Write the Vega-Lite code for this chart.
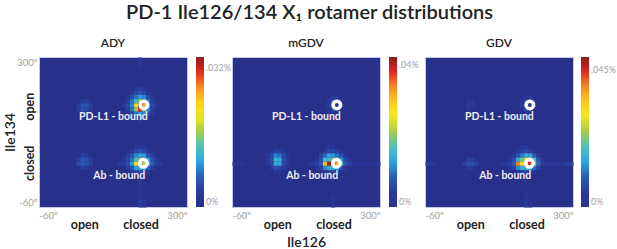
{
  "$schema": "https://vega.github.io/schema/vega-lite/v6.json",
  "background": "white",
  "padding": {"left": 2, "right": 0, "top": 2, "bottom": 0},
  "title": {"text": "PD-1 Ile126/134 X₁ rotamer distributions", "fontSize": 20, "fontWeight": 600, "color": "#222222", "anchor": "middle", "offset": 14},
  "config": {
    "font": "Lato",
    "view": {"fill": "#283189", "stroke": "#c5c8e6", "strokeWidth": 1},
    "title": {"fontSize": 12, "fontWeight": 600, "color": "#222222", "offset": 7},
    "axis": {"grid": false, "ticks": false, "domain": false}
  },
  "datasets": {
    "ady": [
      {"ile126":185,"ile134":295,"pct":0.003},{"ile126":185,"ile134":285,"pct":0.003},
      {"ile126":175,"ile134":225,"pct":0.003},{"ile126":185,"ile134":225,"pct":0.004},{"ile126":195,"ile134":225,"pct":0.003},
      {"ile126":165,"ile134":215,"pct":0.003},{"ile126":175,"ile134":215,"pct":0.005},{"ile126":185,"ile134":215,"pct":0.006},{"ile126":195,"ile134":215,"pct":0.005},{"ile126":205,"ile134":215,"pct":0.003},
      {"ile126":155,"ile134":205,"pct":0.003},{"ile126":165,"ile134":205,"pct":0.005},{"ile126":175,"ile134":205,"pct":0.008},{"ile126":185,"ile134":205,"pct":0.010},{"ile126":195,"ile134":205,"pct":0.009},{"ile126":205,"ile134":205,"pct":0.005},{"ile126":215,"ile134":205,"pct":0.003},
      {"ile126":155,"ile134":195,"pct":0.004},{"ile126":165,"ile134":195,"pct":0.008},{"ile126":175,"ile134":195,"pct":0.013},{"ile126":185,"ile134":195,"pct":0.017},{"ile126":195,"ile134":195,"pct":0.014},{"ile126":205,"ile134":195,"pct":0.008},{"ile126":215,"ile134":195,"pct":0.004},
      {"ile126":145,"ile134":185,"pct":0.003},{"ile126":155,"ile134":185,"pct":0.005},{"ile126":165,"ile134":185,"pct":0.009},{"ile126":175,"ile134":185,"pct":0.020},{"ile126":185,"ile134":185,"pct":0.033},{"ile126":195,"ile134":185,"pct":0.026},{"ile126":205,"ile134":185,"pct":0.010},{"ile126":215,"ile134":185,"pct":0.005},{"ile126":225,"ile134":185,"pct":0.003},
      {"ile126":155,"ile134":175,"pct":0.004},{"ile126":165,"ile134":175,"pct":0.008},{"ile126":175,"ile134":175,"pct":0.017},{"ile126":185,"ile134":175,"pct":0.031},{"ile126":195,"ile134":175,"pct":0.016},{"ile126":205,"ile134":175,"pct":0.009},{"ile126":215,"ile134":175,"pct":0.004},
      {"ile126":155,"ile134":165,"pct":0.003},{"ile126":165,"ile134":165,"pct":0.005},{"ile126":175,"ile134":165,"pct":0.008},{"ile126":185,"ile134":165,"pct":0.010},{"ile126":195,"ile134":165,"pct":0.009},{"ile126":205,"ile134":165,"pct":0.005},{"ile126":215,"ile134":165,"pct":0.003},
      {"ile126":165,"ile134":155,"pct":0.003},{"ile126":175,"ile134":155,"pct":0.004},{"ile126":185,"ile134":155,"pct":0.005},{"ile126":195,"ile134":155,"pct":0.004},{"ile126":205,"ile134":155,"pct":0.003},
      {"ile126":185,"ile134":145,"pct":0.002},
      {"ile126":175,"ile134":85,"pct":0.003},{"ile126":185,"ile134":85,"pct":0.003},{"ile126":195,"ile134":85,"pct":0.003},
      {"ile126":165,"ile134":75,"pct":0.003},{"ile126":175,"ile134":75,"pct":0.005},{"ile126":185,"ile134":75,"pct":0.006},{"ile126":195,"ile134":75,"pct":0.005},{"ile126":205,"ile134":75,"pct":0.003},
      {"ile126":155,"ile134":65,"pct":0.004},{"ile126":165,"ile134":65,"pct":0.006},{"ile126":175,"ile134":65,"pct":0.009},{"ile126":185,"ile134":65,"pct":0.011},{"ile126":195,"ile134":65,"pct":0.010},{"ile126":205,"ile134":65,"pct":0.006},{"ile126":215,"ile134":65,"pct":0.004},
      {"ile126":145,"ile134":55,"pct":0.003},{"ile126":155,"ile134":55,"pct":0.005},{"ile126":165,"ile134":55,"pct":0.008},{"ile126":175,"ile134":55,"pct":0.013},{"ile126":185,"ile134":55,"pct":0.016},{"ile126":195,"ile134":55,"pct":0.014},{"ile126":205,"ile134":55,"pct":0.010},{"ile126":215,"ile134":55,"pct":0.006},{"ile126":225,"ile134":55,"pct":0.003},
      {"ile126":135,"ile134":45,"pct":0.003},{"ile126":145,"ile134":45,"pct":0.004},{"ile126":155,"ile134":45,"pct":0.006},{"ile126":165,"ile134":45,"pct":0.010},{"ile126":175,"ile134":45,"pct":0.021},{"ile126":185,"ile134":45,"pct":0.020},{"ile126":195,"ile134":45,"pct":0.018},{"ile126":205,"ile134":45,"pct":0.013},{"ile126":215,"ile134":45,"pct":0.007},{"ile126":225,"ile134":45,"pct":0.004},{"ile126":235,"ile134":45,"pct":0.003},
      {"ile126":155,"ile134":35,"pct":0.004},{"ile126":165,"ile134":35,"pct":0.006},{"ile126":175,"ile134":35,"pct":0.010},{"ile126":185,"ile134":35,"pct":0.012},{"ile126":195,"ile134":35,"pct":0.010},{"ile126":205,"ile134":35,"pct":0.007},{"ile126":215,"ile134":35,"pct":0.004},
      {"ile126":165,"ile134":25,"pct":0.003},{"ile126":175,"ile134":25,"pct":0.005},{"ile126":185,"ile134":25,"pct":0.006},{"ile126":195,"ile134":25,"pct":0.005},{"ile126":205,"ile134":25,"pct":0.003},
      {"ile126":185,"ile134":15,"pct":0.003},{"ile126":195,"ile134":15,"pct":0.003},
      {"ile126":185,"ile134":5,"pct":0.003},{"ile126":185,"ile134":-5,"pct":0.003},{"ile126":185,"ile134":-15,"pct":0.003},{"ile126":185,"ile134":-25,"pct":0.003},{"ile126":185,"ile134":-35,"pct":0.003},{"ile126":185,"ile134":-45,"pct":0.004},{"ile126":185,"ile134":-55,"pct":0.004},{"ile126":195,"ile134":-45,"pct":0.003},{"ile126":195,"ile134":-55,"pct":0.003},
      {"ile126":45,"ile134":195,"pct":0.004},{"ile126":55,"ile134":195,"pct":0.004},{"ile126":35,"ile134":185,"pct":0.004},{"ile126":45,"ile134":185,"pct":0.006},{"ile126":55,"ile134":185,"pct":0.006},{"ile126":65,"ile134":185,"pct":0.004},{"ile126":35,"ile134":175,"pct":0.004},{"ile126":45,"ile134":175,"pct":0.006},{"ile126":55,"ile134":175,"pct":0.005},{"ile126":65,"ile134":175,"pct":0.003},{"ile126":45,"ile134":165,"pct":0.003},{"ile126":55,"ile134":165,"pct":0.003},
      {"ile126":45,"ile134":65,"pct":0.004},{"ile126":55,"ile134":65,"pct":0.004},{"ile126":35,"ile134":55,"pct":0.004},{"ile126":45,"ile134":55,"pct":0.007},{"ile126":55,"ile134":55,"pct":0.006},{"ile126":65,"ile134":55,"pct":0.004},{"ile126":35,"ile134":45,"pct":0.005},{"ile126":45,"ile134":45,"pct":0.007},{"ile126":55,"ile134":45,"pct":0.006},{"ile126":65,"ile134":45,"pct":0.004},{"ile126":45,"ile134":35,"pct":0.004},{"ile126":55,"ile134":35,"pct":0.003}
    ],
    "mgdv": [
      {"ile126":185,"ile134":205,"pct":0.004},{"ile126":195,"ile134":205,"pct":0.004},
      {"ile126":175,"ile134":195,"pct":0.004},{"ile126":185,"ile134":195,"pct":0.007},{"ile126":195,"ile134":195,"pct":0.007},{"ile126":205,"ile134":195,"pct":0.004},
      {"ile126":175,"ile134":185,"pct":0.005},{"ile126":185,"ile134":185,"pct":0.008},{"ile126":195,"ile134":185,"pct":0.003},{"ile126":205,"ile134":185,"pct":0.005},
      {"ile126":185,"ile134":175,"pct":0.006},{"ile126":195,"ile134":175,"pct":0.005},{"ile126":185,"ile134":165,"pct":0.003},{"ile126":195,"ile134":165,"pct":0.003},
      {"ile126":175,"ile134":85,"pct":0.004},{"ile126":185,"ile134":85,"pct":0.004},
      {"ile126":165,"ile134":75,"pct":0.004},{"ile126":175,"ile134":75,"pct":0.006},{"ile126":185,"ile134":75,"pct":0.006},{"ile126":195,"ile134":75,"pct":0.005},{"ile126":205,"ile134":75,"pct":0.004},
      {"ile126":155,"ile134":65,"pct":0.005},{"ile126":165,"ile134":65,"pct":0.009},{"ile126":175,"ile134":65,"pct":0.013},{"ile126":185,"ile134":65,"pct":0.012},{"ile126":195,"ile134":65,"pct":0.010},{"ile126":205,"ile134":65,"pct":0.007},{"ile126":215,"ile134":65,"pct":0.004},
      {"ile126":145,"ile134":55,"pct":0.004},{"ile126":155,"ile134":55,"pct":0.007},{"ile126":165,"ile134":55,"pct":0.015},{"ile126":175,"ile134":55,"pct":0.016},{"ile126":185,"ile134":55,"pct":0.020},{"ile126":195,"ile134":55,"pct":0.016},{"ile126":205,"ile134":55,"pct":0.012},{"ile126":215,"ile134":55,"pct":0.006},{"ile126":225,"ile134":55,"pct":0.004},
      {"ile126":-55,"ile134":45,"pct":0.004},{"ile126":-45,"ile134":45,"pct":0.003},{"ile126":-35,"ile134":45,"pct":0.003},{"ile126":245,"ile134":45,"pct":0.003},{"ile126":255,"ile134":45,"pct":0.003},{"ile126":265,"ile134":45,"pct":0.004},{"ile126":275,"ile134":45,"pct":0.003},{"ile126":285,"ile134":45,"pct":0.004},{"ile126":295,"ile134":45,"pct":0.004},
      {"ile126":125,"ile134":45,"pct":0.003},{"ile126":135,"ile134":45,"pct":0.004},{"ile126":145,"ile134":45,"pct":0.005},{"ile126":155,"ile134":45,"pct":0.008},{"ile126":165,"ile134":45,"pct":0.031},{"ile126":175,"ile134":45,"pct":0.041},{"ile126":185,"ile134":45,"pct":0.031},{"ile126":195,"ile134":45,"pct":0.032},{"ile126":205,"ile134":45,"pct":0.016},{"ile126":215,"ile134":45,"pct":0.008},{"ile126":225,"ile134":45,"pct":0.005},{"ile126":235,"ile134":45,"pct":0.004},
      {"ile126":145,"ile134":35,"pct":0.003},{"ile126":155,"ile134":35,"pct":0.005},{"ile126":165,"ile134":35,"pct":0.011},{"ile126":175,"ile134":35,"pct":0.014},{"ile126":185,"ile134":35,"pct":0.013},{"ile126":195,"ile134":35,"pct":0.011},{"ile126":205,"ile134":35,"pct":0.007},{"ile126":215,"ile134":35,"pct":0.004},
      {"ile126":165,"ile134":25,"pct":0.004},{"ile126":175,"ile134":25,"pct":0.006},{"ile126":185,"ile134":25,"pct":0.006},{"ile126":195,"ile134":25,"pct":0.005},{"ile126":205,"ile134":25,"pct":0.003},
      {"ile126":185,"ile134":15,"pct":0.003},{"ile126":185,"ile134":-35,"pct":0.003},{"ile126":185,"ile134":-45,"pct":0.003},{"ile126":185,"ile134":-55,"pct":0.004},
      {"ile126":45,"ile134":85,"pct":0.003},
      {"ile126":35,"ile134":75,"pct":0.003},{"ile126":45,"ile134":75,"pct":0.005},{"ile126":55,"ile134":75,"pct":0.005},{"ile126":65,"ile134":75,"pct":0.003},
      {"ile126":25,"ile134":65,"pct":0.003},{"ile126":35,"ile134":65,"pct":0.006},{"ile126":45,"ile134":65,"pct":0.011},{"ile126":55,"ile134":65,"pct":0.010},{"ile126":65,"ile134":65,"pct":0.006},{"ile126":75,"ile134":65,"pct":0.003},
      {"ile126":25,"ile134":55,"pct":0.004},{"ile126":35,"ile134":55,"pct":0.007},{"ile126":45,"ile134":55,"pct":0.015},{"ile126":55,"ile134":55,"pct":0.014},{"ile126":65,"ile134":55,"pct":0.007},{"ile126":75,"ile134":55,"pct":0.004},
      {"ile126":25,"ile134":45,"pct":0.004},{"ile126":35,"ile134":45,"pct":0.006},{"ile126":45,"ile134":45,"pct":0.014},{"ile126":55,"ile134":45,"pct":0.013},{"ile126":65,"ile134":45,"pct":0.006},{"ile126":75,"ile134":45,"pct":0.004},
      {"ile126":35,"ile134":35,"pct":0.004},{"ile126":45,"ile134":35,"pct":0.007},{"ile126":55,"ile134":35,"pct":0.006},{"ile126":65,"ile134":35,"pct":0.004},
      {"ile126":45,"ile134":25,"pct":0.003},{"ile126":55,"ile134":25,"pct":0.003}
    ],
    "gdv": [
      {"ile126":185,"ile134":205,"pct":0.004},{"ile126":195,"ile134":205,"pct":0.004},
      {"ile126":175,"ile134":195,"pct":0.004},{"ile126":185,"ile134":195,"pct":0.007},{"ile126":195,"ile134":195,"pct":0.008},{"ile126":205,"ile134":195,"pct":0.004},
      {"ile126":175,"ile134":185,"pct":0.006},{"ile126":185,"ile134":185,"pct":0.009},{"ile126":195,"ile134":185,"pct":0.004},{"ile126":205,"ile134":185,"pct":0.006},
      {"ile126":185,"ile134":175,"pct":0.007},{"ile126":195,"ile134":175,"pct":0.006},{"ile126":185,"ile134":165,"pct":0.004},{"ile126":195,"ile134":165,"pct":0.003},
      {"ile126":45,"ile134":195,"pct":0.004},{"ile126":55,"ile134":195,"pct":0.004},{"ile126":45,"ile134":185,"pct":0.005},{"ile126":55,"ile134":185,"pct":0.004},{"ile126":45,"ile134":175,"pct":0.004},
      {"ile126":175,"ile134":85,"pct":0.004},{"ile126":185,"ile134":85,"pct":0.004},
      {"ile126":165,"ile134":75,"pct":0.004},{"ile126":175,"ile134":75,"pct":0.006},{"ile126":185,"ile134":75,"pct":0.007},{"ile126":195,"ile134":75,"pct":0.006},{"ile126":205,"ile134":75,"pct":0.004},
      {"ile126":155,"ile134":65,"pct":0.005},{"ile126":165,"ile134":65,"pct":0.008},{"ile126":175,"ile134":65,"pct":0.012},{"ile126":185,"ile134":65,"pct":0.016},{"ile126":195,"ile134":65,"pct":0.015},{"ile126":205,"ile134":65,"pct":0.010},{"ile126":215,"ile134":65,"pct":0.005},
      {"ile126":145,"ile134":55,"pct":0.004},{"ile126":155,"ile134":55,"pct":0.007},{"ile126":165,"ile134":55,"pct":0.016},{"ile126":175,"ile134":55,"pct":0.022},{"ile126":185,"ile134":55,"pct":0.028},{"ile126":195,"ile134":55,"pct":0.030},{"ile126":205,"ile134":55,"pct":0.019},{"ile126":215,"ile134":55,"pct":0.009},{"ile126":225,"ile134":55,"pct":0.005},
      {"ile126":125,"ile134":45,"pct":0.004},{"ile126":135,"ile134":45,"pct":0.005},{"ile126":145,"ile134":45,"pct":0.006},{"ile126":155,"ile134":45,"pct":0.010},{"ile126":165,"ile134":45,"pct":0.040},{"ile126":175,"ile134":45,"pct":0.031},{"ile126":185,"ile134":45,"pct":0.038},{"ile126":195,"ile134":45,"pct":0.045},{"ile126":205,"ile134":45,"pct":0.023},{"ile126":215,"ile134":45,"pct":0.011},{"ile126":225,"ile134":45,"pct":0.006},{"ile126":235,"ile134":45,"pct":0.005},{"ile126":245,"ile134":45,"pct":0.004},
      {"ile126":145,"ile134":35,"pct":0.004},{"ile126":155,"ile134":35,"pct":0.006},{"ile126":165,"ile134":35,"pct":0.013},{"ile126":175,"ile134":35,"pct":0.016},{"ile126":185,"ile134":35,"pct":0.018},{"ile126":195,"ile134":35,"pct":0.016},{"ile126":205,"ile134":35,"pct":0.011},{"ile126":215,"ile134":35,"pct":0.006},
      {"ile126":165,"ile134":25,"pct":0.004},{"ile126":175,"ile134":25,"pct":0.006},{"ile126":185,"ile134":25,"pct":0.007},{"ile126":195,"ile134":25,"pct":0.006},{"ile126":205,"ile134":25,"pct":0.004},
      {"ile126":185,"ile134":15,"pct":0.004},{"ile126":185,"ile134":5,"pct":0.003},
      {"ile126":-55,"ile134":45,"pct":0.006},{"ile126":-45,"ile134":45,"pct":0.005},{"ile126":-35,"ile134":45,"pct":0.003},{"ile126":35,"ile134":45,"pct":0.006},{"ile126":45,"ile134":45,"pct":0.008},{"ile126":55,"ile134":45,"pct":0.008},{"ile126":65,"ile134":45,"pct":0.006},{"ile126":45,"ile134":55,"pct":0.006},{"ile126":55,"ile134":55,"pct":0.006},{"ile126":45,"ile134":35,"pct":0.005},{"ile126":55,"ile134":35,"pct":0.004},
      {"ile126":255,"ile134":45,"pct":0.004},{"ile126":265,"ile134":45,"pct":0.004},{"ile126":275,"ile134":45,"pct":0.005},{"ile126":285,"ile134":45,"pct":0.006},{"ile126":295,"ile134":45,"pct":0.006},
      {"ile126":185,"ile134":-25,"pct":0.003},{"ile126":185,"ile134":-35,"pct":0.004},{"ile126":185,"ile134":-45,"pct":0.004},{"ile126":185,"ile134":-55,"pct":0.005},{"ile126":195,"ile134":-55,"pct":0.004}
    ],
    "sites": [
      {"ile126":195,"ile134":185},
      {"ile126":194,"ile134":45}
    ],
    "labels": [
      {"ile126":121,"ile134":156,"text":"PD-L1 - bound"},
      {"ile126":135,"ile134":14,"text":"Ab - bound"}
    ]
  },
  "spacing": 45,
  "bounds": "flush",
  "resolve": {"scale": {"color": "independent"}},
  "hconcat": [
    {
      "title": "ADY",
      "width": 148, "height": 150,
      "resolve": {"axis": {"x": "independent", "y": "independent"}},
      "layer": [
        {
          "data": {"name": "ady"},
          "mark": "rect",
          "encoding": {
            "x": {"field": "ile126", "type": "quantitative", "bin": {"step": 10, "extent": [-60, 300]}, "scale": {"domain": [-60, 300], "nice": false, "zero": false},
                  "axis": {"orient": "bottom", "values": [-60, 300], "labelExpr": "datum.value + 'º'", "labelFlush": true, "labelColor": "#a0a0a0", "labelFontSize": 9.5, "labelPadding": 3, "title": null}},
            "y": {"field": "ile134", "type": "quantitative", "bin": {"step": 10, "extent": [-60, 300]}, "scale": {"domain": [-60, 300], "nice": false, "zero": false},
                  "axis": {"orient": "left", "values": [-60, 300], "labelExpr": "datum.value + 'º'", "labelFlush": true, "labelColor": "#a0a0a0", "labelFontSize": 9.5, "labelPadding": 2, "title": null}},
            "color": {"aggregate": "max", "field": "pct", "type": "quantitative",
                      "scale": {"domain": [0, 0.0345], "interpolate": "rgb", "range": ["#283189", "#2a3a99", "#2c5bb5", "#2aa6e0", "#4fc1c0", "#9fcd45", "#f2e81a", "#fbd017", "#f68b1f", "#e5261f", "#8c1a1a"]},
                      "legend": {"title": null, "direction": "vertical", "orient": "right", "offset": 9, "padding": 0, "gradientLength": 150, "gradientThickness": 8, "gradientStrokeWidth": 0, "values": [0, 0.032], "labelExpr": "datum.value == 0 ? '0%' : slice(format(datum.value, '.3~f'), 1) + '%'", "labelColor": "#a0a0a0", "labelFontSize": 9, "labelOffset": 2}}
          }
        },
        {
          "data": {"name": "sites"},
          "mark": {"type": "point", "shape": "circle", "filled": false, "stroke": "white", "strokeWidth": 3.5, "size": 56, "opacity": 1},
          "encoding": {
            "x": {"field": "ile126", "type": "quantitative", "scale": {"domain": [-60, 300], "nice": false, "zero": false},
                  "axis": {"orient": "bottom", "values": [50, 187], "labelExpr": "datum.value < 100 ? 'open' : 'closed'", "labelColor": "#222222", "labelFontSize": 12.5, "labelFontWeight": "bold", "labelPadding": 11, "title": null}},
            "y": {"field": "ile134", "type": "quantitative", "scale": {"domain": [-60, 300], "nice": false, "zero": false},
                  "axis": {"orient": "left", "values": [46, 182], "labelExpr": "datum.value < 100 ? 'closed' : 'open'", "labelAngle": 270, "labelAlign": "center", "labelBaseline": "bottom", "labelColor": "#222222", "labelFontSize": 12.5, "labelFontWeight": "bold", "labelPadding": 3,
                           "title": "Ile134", "titleFontSize": 14, "titleFontWeight": 600, "titleColor": "#222222", "titlePadding": 6}}
          }
        },
        {
          "data": {"name": "labels"},
          "mark": {"type": "text", "color": "#eeeef6", "fontSize": 10.5, "fontWeight": "bold", "align": "center", "baseline": "middle"},
          "encoding": {
            "x": {"field": "ile126", "type": "quantitative", "axis": null},
            "y": {"field": "ile134", "type": "quantitative", "axis": null},
            "text": {"field": "text"}
          }
        }
      ]
    },
    {
      "title": "mGDV",
      "width": 148, "height": 150,
      "resolve": {"axis": {"x": "independent", "y": "independent"}},
      "layer": [
        {
          "data": {"name": "mgdv"},
          "mark": "rect",
          "encoding": {
            "x": {"field": "ile126", "type": "quantitative", "bin": {"step": 10, "extent": [-60, 300]}, "scale": {"domain": [-60, 300], "nice": false, "zero": false},
                  "axis": {"orient": "bottom", "values": [-60, 300], "labelExpr": "datum.value + 'º'", "labelFlush": true, "labelColor": "#a0a0a0", "labelFontSize": 9.5, "labelPadding": 3, "title": null}},
            "y": {"field": "ile134", "type": "quantitative", "bin": {"step": 10, "extent": [-60, 300]}, "scale": {"domain": [-60, 300], "nice": false, "zero": false}, "axis": null},
            "color": {"aggregate": "max", "field": "pct", "type": "quantitative",
                      "scale": {"domain": [0, 0.0424], "interpolate": "rgb", "range": ["#283189", "#2a3a99", "#2c5bb5", "#2aa6e0", "#4fc1c0", "#9fcd45", "#f2e81a", "#fbd017", "#f68b1f", "#e5261f", "#8c1a1a"]},
                      "legend": {"title": null, "direction": "vertical", "orient": "right", "offset": 9, "padding": 0, "gradientLength": 150, "gradientThickness": 8, "gradientStrokeWidth": 0, "values": [0, 0.04], "labelExpr": "datum.value == 0 ? '0%' : slice(format(datum.value, '.3~f'), 1) + '%'", "labelColor": "#a0a0a0", "labelFontSize": 9, "labelOffset": 2}}
          }
        },
        {
          "data": {"name": "sites"},
          "mark": {"type": "point", "shape": "circle", "filled": false, "stroke": "white", "strokeWidth": 3.5, "size": 56, "opacity": 1},
          "encoding": {
            "x": {"field": "ile126", "type": "quantitative", "scale": {"domain": [-60, 300], "nice": false, "zero": false},
                  "axis": {"orient": "bottom", "values": [50, 187], "labelExpr": "datum.value < 100 ? 'open' : 'closed'", "labelColor": "#222222", "labelFontSize": 12.5, "labelFontWeight": "bold", "labelPadding": 11,
                           "title": "Ile126", "titleFontSize": 14, "titleFontWeight": 600, "titleColor": "#222222", "titlePadding": 5}},
            "y": {"field": "ile134", "type": "quantitative", "scale": {"domain": [-60, 300], "nice": false, "zero": false}, "axis": null}
          }
        },
        {
          "data": {"name": "labels"},
          "mark": {"type": "text", "color": "#eeeef6", "fontSize": 10.5, "fontWeight": "bold", "align": "center", "baseline": "middle"},
          "encoding": {
            "x": {"field": "ile126", "type": "quantitative", "axis": null},
            "y": {"field": "ile134", "type": "quantitative", "axis": null},
            "text": {"field": "text"}
          }
        }
      ]
    },
    {
      "title": "GDV",
      "width": 148, "height": 150,
      "resolve": {"axis": {"x": "independent", "y": "independent"}},
      "layer": [
        {
          "data": {"name": "gdv"},
          "mark": "rect",
          "encoding": {
            "x": {"field": "ile126", "type": "quantitative", "bin": {"step": 10, "extent": [-60, 300]}, "scale": {"domain": [-60, 300], "nice": false, "zero": false},
                  "axis": {"orient": "bottom", "values": [-60, 300], "labelExpr": "datum.value + 'º'", "labelFlush": true, "labelColor": "#a0a0a0", "labelFontSize": 9.5, "labelPadding": 3, "title": null}},
            "y": {"field": "ile134", "type": "quantitative", "bin": {"step": 10, "extent": [-60, 300]}, "scale": {"domain": [-60, 300], "nice": false, "zero": false}, "axis": null},
            "color": {"aggregate": "max", "field": "pct", "type": "quantitative",
                      "scale": {"domain": [0, 0.0493], "interpolate": "rgb", "range": ["#283189", "#2a3a99", "#2c5bb5", "#2aa6e0", "#4fc1c0", "#9fcd45", "#f2e81a", "#fbd017", "#f68b1f", "#e5261f", "#8c1a1a"]},
                      "legend": {"title": null, "direction": "vertical", "orient": "right", "offset": 8, "padding": 0, "gradientLength": 150, "gradientThickness": 8, "gradientStrokeWidth": 0, "values": [0, 0.045], "labelExpr": "datum.value == 0 ? '0%' : slice(format(datum.value, '.3~f'), 1) + '%'", "labelColor": "#a0a0a0", "labelFontSize": 9, "labelOffset": 2}}
          }
        },
        {
          "data": {"name": "sites"},
          "mark": {"type": "point", "shape": "circle", "filled": false, "stroke": "white", "strokeWidth": 3.5, "size": 56, "opacity": 1},
          "encoding": {
            "x": {"field": "ile126", "type": "quantitative", "scale": {"domain": [-60, 300], "nice": false, "zero": false},
                  "axis": {"orient": "bottom", "values": [50, 187], "labelExpr": "datum.value < 100 ? 'open' : 'closed'", "labelColor": "#222222", "labelFontSize": 12.5, "labelFontWeight": "bold", "labelPadding": 11, "title": null}},
            "y": {"field": "ile134", "type": "quantitative", "scale": {"domain": [-60, 300], "nice": false, "zero": false}, "axis": null}
          }
        },
        {
          "data": {"name": "labels"},
          "mark": {"type": "text", "color": "#eeeef6", "fontSize": 10.5, "fontWeight": "bold", "align": "center", "baseline": "middle"},
          "encoding": {
            "x": {"field": "ile126", "type": "quantitative", "axis": null},
            "y": {"field": "ile134", "type": "quantitative", "axis": null},
            "text": {"field": "text"}
          }
        }
      ]
    }
  ]
}
